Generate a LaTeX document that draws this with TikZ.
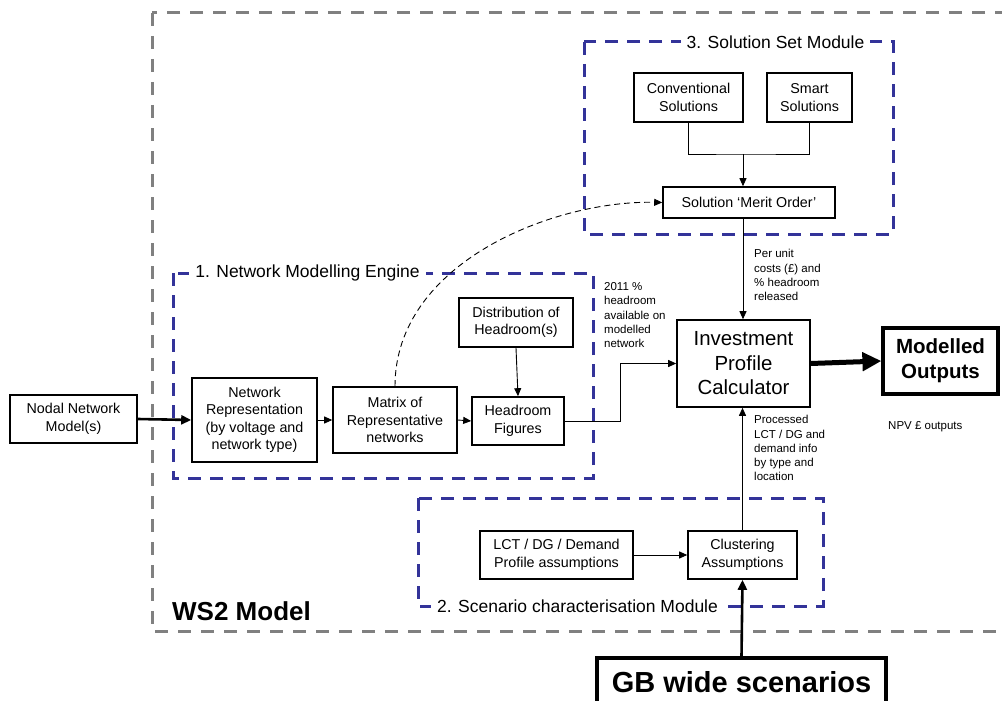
\documentclass[tikz,border=0pt]{standalone}
\usepackage{fontspec}
\setmainfont{Liberation Sans}
\usetikzlibrary{arrows.meta}
\definecolor{modblue}{RGB}{51,51,153}
\definecolor{wsgray}{RGB}{128,128,128}

\begin{document}
\begin{tikzpicture}[x=1pt,y=-1pt,
    box/.style={draw,line width=1.6pt,align=center,inner sep=0pt,font=\fontsize{14.3}{17.5}\selectfont},
    bigbox/.style={draw,line width=3.2pt,align=center,inner sep=0pt,font=\bfseries\fontsize{20.5}{25}\selectfont},
    module/.style={draw=modblue,line width=3pt,dash pattern=on 13pt off 9pt},
    modtitle/.style={fill=white,inner sep=6pt,font=\fontsize{17.5}{20}\selectfont},
    note/.style={align=left,inner sep=0pt,font=\fontsize{11.5}{14.2}\selectfont},
    arr/.style={line width=0.9pt,-{Triangle[length=8pt,width=7pt]}}]
    \useasboundingbox (0,0) rectangle (1002,701);

    % the model and its three modules
    \draw[wsgray,line width=3pt,dash pattern=on 13pt off 10pt] (152,13) rectangle (1020,631);
    \node[anchor=base west,inner sep=0pt,font=\bfseries\fontsize{26}{30}\selectfont] (ws2) at (172,620) {WS2 Model};
    \draw[module] (584,42) rectangle (893,234);
    \draw[module] (173,273) rectangle (593,478);
    \draw[module] (418,498) rectangle (823,606);
    \node[modtitle] (title3) at (775.5,42) {3. Solution Set Module};
    \node[modtitle] (title1) at (307.5,273) {1. Network Modelling Engine};
    \node[modtitle] (title2) at (577.5,606) {2. Scenario characterisation Module};

    % boxes
    \node[box,minimum width=109,minimum height=49] (conv) at (688.5,97.5) {Conventional\\Solutions};
    \node[box,minimum width=85,minimum height=49] (smart) at (809.5,97.5) {Smart\\Solutions};
    \node[box,minimum width=172,minimum height=31] (merit) at (749,202.5) {Solution ‘Merit Order’};
    \node[box,minimum width=127,minimum height=48] (nodal) at (73.5,419) {Nodal Network\\Model(s)};
    \node[box,minimum width=125,minimum height=84] (netrep) at (254.5,420) {Network\\Representation\\(by voltage and\\network type)};
    \node[box,minimum width=124,minimum height=66] (matrix) at (395,420) {Matrix of\\Representative\\networks};
    \node[box,minimum width=92,minimum height=48] (headfig) at (518,421) {Headroom\\Figures};
    \node[box,minimum width=114,minimum height=49] (distr) at (516,322.5) {Distribution of\\Headroom(s)};
    \node[box,minimum width=133,minimum height=87,font=\fontsize{20.4}{24.5}\selectfont] (invest) at (743.5,363.5) {Investment\\Profile\\Calculator};
    \node[bigbox,minimum width=115,minimum height=66] (outputs) at (940.5,361) {Modelled\\Outputs};
    \node[box,minimum width=153,minimum height=48] (lct) at (556.5,555) {LCT / DG / Demand\\Profile assumptions};
    \node[box,minimum width=109,minimum height=48] (clust) at (742.5,555) {Clustering\\Assumptions};
    \node[bigbox,minimum width=289,minimum height=48,font=\bfseries\fontsize{29}{34}\selectfont] (gb) at (741.5,682) {GB wide scenarios};

    % notes
    \node[note,anchor=north west] (headnote) at (604,282.4) {2011 \%\\headroom\\available on\\modelled\\network};
    \node[note,anchor=north west] (costnote) at (754,249.3) {Per unit\\costs (£) and\\\% headroom\\released};
    \node[note,anchor=north west] (lctnote) at (754,415.3) {Processed\\LCT / DG and\\demand info\\by type and\\location};
    \node[note,anchor=base west] (npvnote) at (888,429) {NPV £ outputs};

    % connectors
    \coordinate (join) at (743,154);
    \draw[line width=0.9pt] (conv.south) |- (join) -| (smart.south);
    \draw[arr] (join) -- (join |- merit.north);
    \draw[arr] (join |- merit.south) -- (join |- invest.north);
    \draw[arr,dash pattern=on 6pt off 4pt] (matrix.north) .. controls (395,262) and (555,200) .. (merit.west);
    \draw[line width=2.6pt,-{Triangle[length=10pt,width=9pt]}] (nodal.east) -- (netrep.west);
    \draw[arr] (netrep.east) -- (matrix.west);
    \draw[arr] (matrix.east) -- (headfig.west);
    \draw[arr] (distr.south) -- (headfig.north);
    \draw[arr] (headfig.east) -- ++(56,0) |- (invest.west);
    \draw[line width=5pt,-{Triangle[length=19pt,width=18pt]}] (invest.east) -- (outputs.west);
    \draw[arr] (lct.east) -- (clust.west);
    \draw[arr] (clust.north) -- (clust.north |- invest.south);
    \draw[line width=2.6pt,-{Triangle[length=10pt,width=9pt]}] (gb.north) -- (clust.south);

\end{tikzpicture}
\end{document}
